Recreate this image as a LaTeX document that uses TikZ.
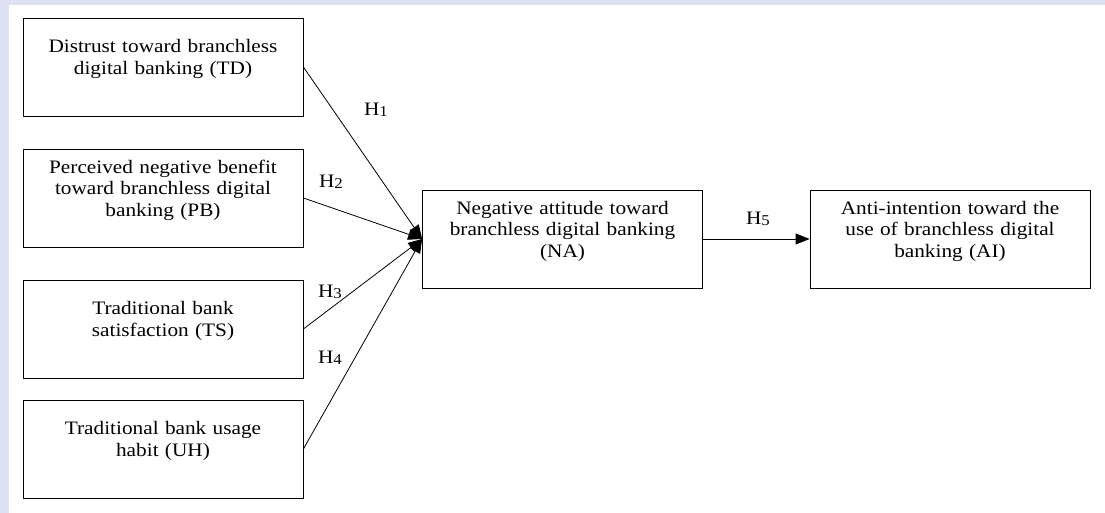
\documentclass[tikz,border=0pt]{standalone}
\usepackage{fontspec}
\setmainfont{Liberation Serif}[FakeStretch=1.12]
\usepackage{tikz}
\usetikzlibrary{arrows.meta}
\definecolor{framebg}{RGB}{222,226,240}
\newcommand{\hyp}[1]{H\raisebox{-1.5pt}{\fontsize{15pt}{15pt}\selectfont #1}}
\tikzset{>={Triangle[length=14pt,width=11pt]},
  every node/.style={font=\fontsize{19pt}{21.5pt}\selectfont},
  factor/.style={draw,line width=0.8pt,minimum width=280pt,minimum height=98pt,
    text width=262pt,align=center,execute at end node={\par\vspace*{16pt}}},
  path/.style={->,line width=0.8pt}}

\begin{document}
\begin{tikzpicture}[x=1pt,y=1pt]
    \useasboundingbox (0,0) rectangle (1105,513);
    \fill[framebg] (0,0) rectangle (1105,513);
    \fill[white] (9,0) rectangle (1105,508);
    \node[factor] (td) at (163,446) {Distrust toward branchless\\ digital banking (TD)};
    \node[factor] (pb) at (163,315) {Perceived negative benefit\\ toward branchless digital\\ banking (PB)};
    \node[factor] (ts) at (163,184) {Traditional bank\\ satisfaction (TS)};
    \node[factor] (uh) at (163,64) {Traditional bank usage\\ habit (UH)};
    \node[factor] (na) at (562.5,274) {Negative attitude toward\\ branchless digital banking\\ (NA)};
    \node[factor] (ai) at (950,274) {Anti-intention toward the\\ use of branchless digital\\ banking (AI)};
    \draw[path] (td.east) -- (na.west);
    \draw[path] (pb.east) -- (na.west);
    \draw[path] (ts.east) -- (na.west);
    \draw[path] (uh.east) -- (na.west);
    \draw[path] (na.east) -- (ai.west);
    \node (h1) at (376,403) {\hyp{1}};
    \node (h2) at (331,331) {\hyp{2}};
    \node (h3) at (330,221) {\hyp{3}};
    \node (h4) at (330,155) {\hyp{4}};
    \node (h5) at (758,294) {\hyp{5}};
  \end{tikzpicture}
\end{document}
